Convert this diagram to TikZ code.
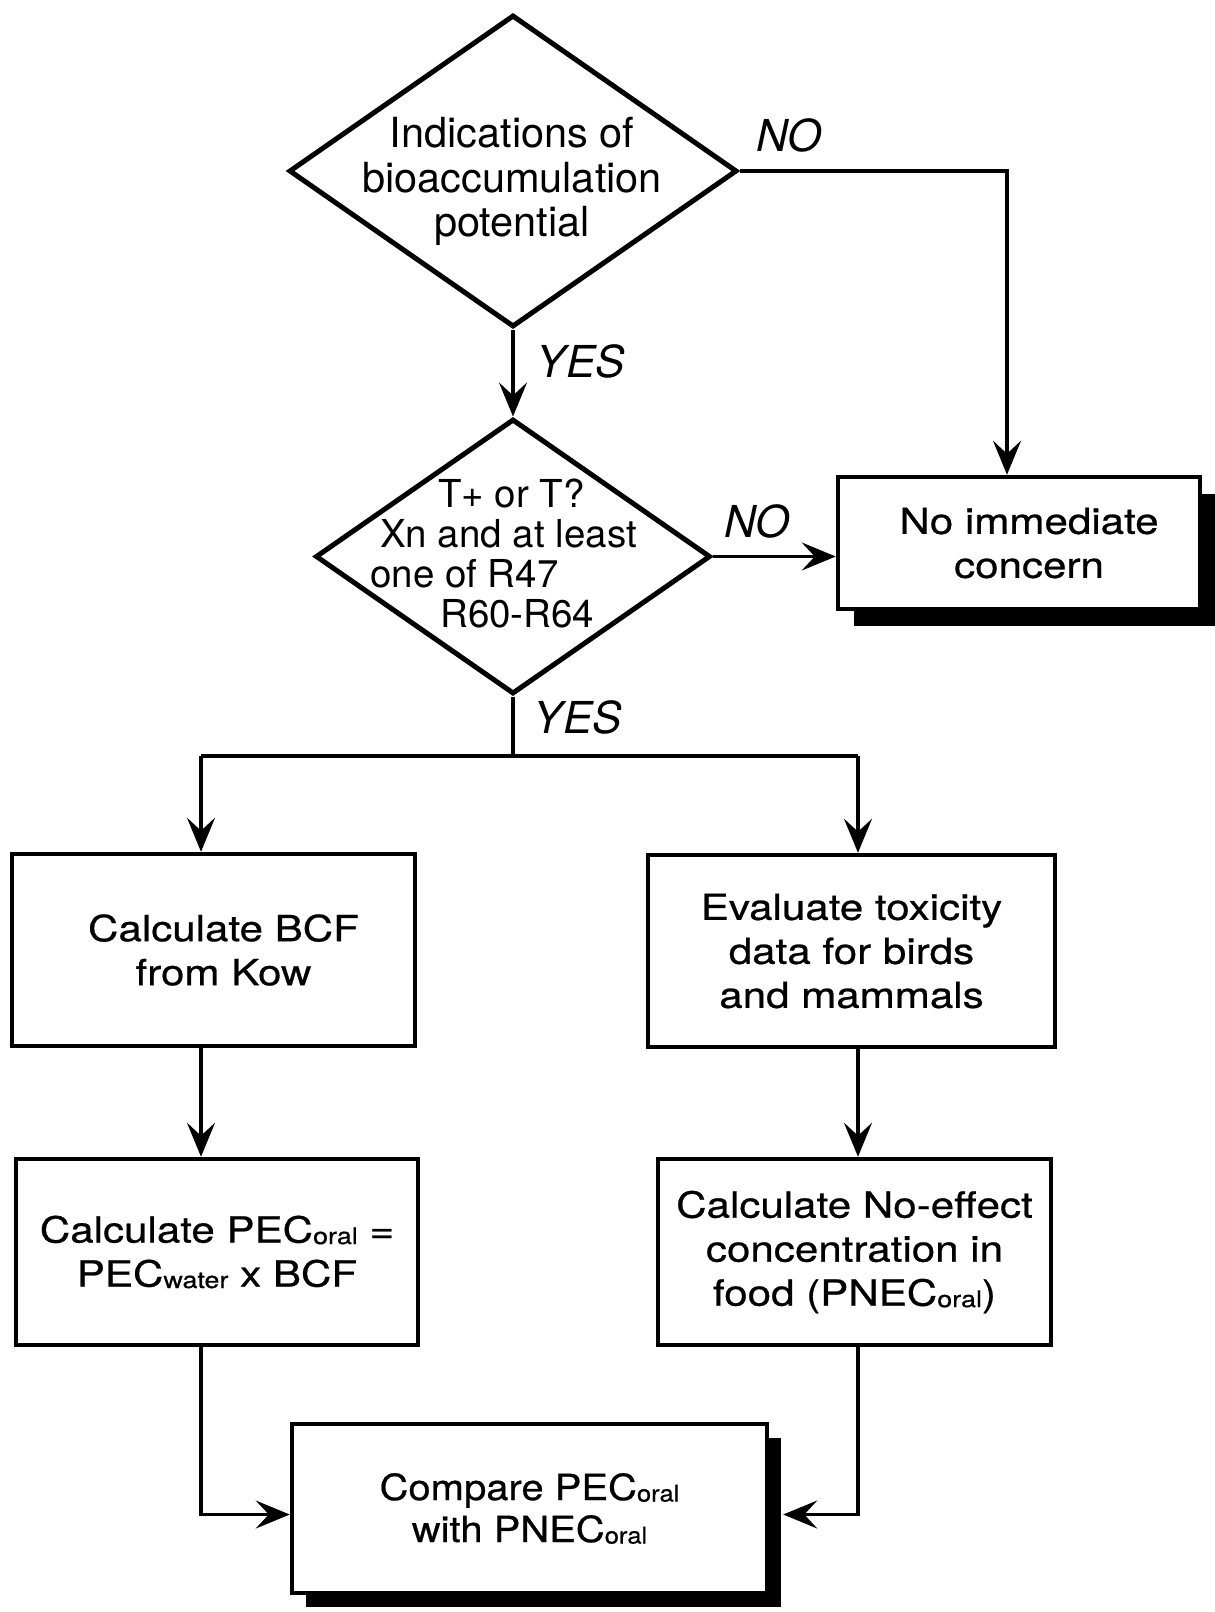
\documentclass[tikz,border=0pt]{standalone}
\usepackage{fontspec}
\setmainfont{TeX Gyre Heros}
\newfontfamily\boxfont[FakeStretch=1.17,FakeBold=0.6]{TeX Gyre Heros}
\newfontfamily\cmpfont[FakeStretch=1.11,FakeBold=0.6]{TeX Gyre Heros}
\usetikzlibrary{shapes.geometric,arrows.meta,shadows,calc}
\newcommand\subsc[1]{\raisebox{-1.5pt}{\fontsize{23}{23}\selectfont #1}}
\newcommand\sh{\hspace*{20pt}}
\begin{document}
\begin{tikzpicture}[x=1pt,y=1pt,
  dia/.style={diamond,draw,line width=5pt,inner sep=0pt},
  box/.style={rectangle,draw,line width=4.5pt,fill=white,align=center,inner sep=0pt,font=\boxfont\fontsize{36}{44}\selectfont},
  shadowbox/.style={box,drop shadow={shadow xshift=16pt,shadow yshift=-17pt,opacity=1,fill=black}},
  shadowboxb/.style={box,font=\cmpfont\fontsize{36}{42}\selectfont,drop shadow={shadow xshift=14pt,shadow yshift=-14pt,opacity=1,fill=black}},
  txt/.style={align=center,inner sep=0pt,font=\fontsize{41.5}{44.5}\selectfont},
  lbl/.style={inner sep=0pt,font=\fontsize{44}{44}\selectfont\itshape},
  conn/.style={line width=3.3pt},
  arr/.style={conn,-{Stealth[length=34pt,width=28pt,inset=13pt]}}
]
\useasboundingbox (0,0) rectangle (1215,-1612);

% decisions
\node[dia,minimum width=448pt,minimum height=312pt] (d1) at (513,-171) {};
\node[txt,anchor=north] (d1t) at (512,-117) {Indications of\\bioaccumulation\\potential};
\node[dia,minimum width=395pt,minimum height=275pt] (d2) at (513,-556.5) {};
\node[inner sep=0pt,align=left,anchor=north west,font=\fontsize{38.5}{40}\selectfont] (d2t) at (370,-479)
  {\hspace*{68pt}T+ or T?\\\hspace*{10pt}Xn and at least\\one of R47\\\hspace*{70pt}R60-R64};

% boxes
\node[shadowbox,minimum width=362pt,minimum height=132pt] (nic) at (1019,-543) {\sh No immediate\\\sh concern};
\node[box,minimum width=403pt,minimum height=192pt] (b1) at (213.5,-950) {\sh Calculate BCF\\\sh from Kow};
\node[box,minimum width=407pt,minimum height=192pt] (b2) at (851.5,-951) {Evaluate toxicity\\data for birds\\and mammals};
\node[box,minimum width=402pt,minimum height=186pt] (b3) at (217,-1252) {Calculate PEC\subsc{oral} =\\PEC\subsc{water} x BCF};
\node[box,minimum width=393pt,minimum height=186pt] (b4) at (854.5,-1252) {Calculate No-effect\\concentration in\\food (PNEC\subsc{oral})};
\node[shadowboxb,minimum width=475pt,minimum height=169pt] (cmp) at (529.5,-1508.5) {Compare PEC\subsc{oral}\\with PNEC\subsc{oral}};

% connectors
\coordinate (L) at (201,-756);
\coordinate (R) at (858,-756);
\draw[arr] (d1.east) -| ([xshift=-12pt]nic.north);
\draw[arr] (d1.south) -- (d2.north);
\draw[arr] (d2.east) -- (d2.east -| nic.west);
\draw[conn] (d2.south) -- (d2.south |- L);
\draw[conn] (L) -- (R);
\draw[arr] (L) -- (L |- b1.north);
\draw[arr] (R) -- (R |- b2.north);
\draw[arr] (L |- b1.south) -- (L |- b3.north);
\draw[arr] (R |- b2.south) -- (R |- b4.north);
\draw[arr] (L |- b3.south) |- ([yshift=-6pt]cmp.west);
\draw[arr] (R |- b4.south) |- ([xshift=14pt,yshift=-6pt]cmp.east);

% labels
\node[lbl] (no1) at (789,-135) {NO};
\node[lbl] (yes1) at (581,-361) {YES};
\node[lbl] (no2) at (757,-521) {NO};
\node[lbl] (yes2) at (578,-717) {YES};
\end{tikzpicture}
\end{document}
